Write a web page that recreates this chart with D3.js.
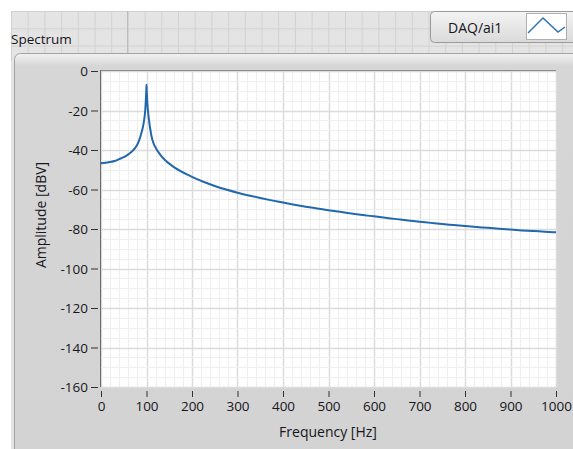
<!DOCTYPE html>
<html><head><meta charset="utf-8">
<script src="https://cdn.jsdelivr.net/npm/d3@7"></script>
<style>body{margin:0;background:#fff}svg{display:block}text{font-family:"Open Sans","Noto Sans",sans-serif;fill:#161620}</style>
</head><body><svg id="c" width="573" height="449"></svg>
<script>
const title = "Spectrum";
const legendLabel = "DAQ/ai1";
const xLabel = "Frequency [Hz]";
const yLabel = "Amplitude [dBV]";
const xTicks = [0,100,200,300,400,500,600,700,800,900,1000];
const yTicks = [0,-20,-40,-60,-80,-100,-120,-140,-160];
const freq = [0,10,20,30,40,50,60,70,78,84,88,92,95,97,98.5,99.5,100,100.5,101.5,103,105,108,111,115,122,130,140,150,162,175,190,200,225,250,275,300,325,350,375,400,425,450,475,500,525,550,575,600,625,650,675,700,725,750,775,800,825,850,875,900,925,950,975,1000];
const amp  = [-46.7,-46.5,-46.1,-45.6,-44.6,-43.6,-42.2,-40.3,-38,-35,-32,-28.5,-24.5,-20.5,-15,-10,-7,-10,-15,-19.5,-24,-29,-33,-36.3,-39.6,-42.3,-44.9,-46.9,-48.9,-50.7,-52.5,-53.6,-56.1,-58.2,-60,-61.6,-63,-64.3,-65.5,-66.6,-67.7,-68.7,-69.6,-70.5,-71.3,-72.1,-72.9,-73.6,-74.3,-75,-75.7,-76.3,-76.9,-77.5,-78,-78.5,-79,-79.4,-79.9,-80.3,-80.7,-81,-81.4,-81.7];

const svg = d3.select("#c");
svg.append("rect").attr("x",0).attr("y",0).attr("width",573).attr("height",449).attr("fill","#fff");
svg.append("rect").attr("x",11).attr("y",11).attr("width",562).attr("height",438).attr("fill","#e4e4e4");
const bg = svg.append("g").attr("stroke","#d2d2d2").attr("stroke-width",1);
for (let gx = 11.5; gx < 573; gx += 16.7) bg.append("line").attr("x1",gx).attr("x2",gx).attr("y1",11).attr("y2",60);
for (let gy = 11.5; gy < 60; gy += 17.3) bg.append("line").attr("x1",11).attr("x2",573).attr("y1",gy).attr("y2",gy);
svg.append("line").attr("x1",127.5).attr("x2",127.5).attr("y1",11).attr("y2",55).attr("stroke","#bcbcbc");

svg.append("text").attr("x",11).attr("y",44).attr("font-size",13.5).text(title);

const defs = svg.append("defs");
const pg = defs.append("linearGradient").attr("id","pg").attr("x1",0).attr("y1",0).attr("x2",0).attr("y2",1);
pg.append("stop").attr("offset","0").attr("stop-color","#f2f2f2");
pg.append("stop").attr("offset","0.03").attr("stop-color","#d6d6d6");
pg.append("stop").attr("offset","1").attr("stop-color","#d3d3d3");
svg.append("rect").attr("x",14.5).attr("y",53.5).attr("width",570).attr("height",410).attr("rx",6)
  .attr("fill","url(#pg)").attr("stroke","#a3a3a3");

const lg = defs.append("linearGradient").attr("id","lg").attr("x1",0).attr("y1",0).attr("x2",0).attr("y2",1);
lg.append("stop").attr("offset","0").attr("stop-color","#f4f4f4");
lg.append("stop").attr("offset","1").attr("stop-color","#dadada");
svg.append("rect").attr("x",430.5).attr("y",11.5).attr("width",160).attr("height",31).attr("rx",4)
  .attr("fill","url(#lg)").attr("stroke","#9a9a9a");
svg.append("text").attr("x",448).attr("y",33).attr("font-size",14).text(legendLabel);
svg.append("rect").attr("x",526.5).attr("y",13.5).attr("width",40).attr("height",26).attr("fill","#fff").attr("stroke","#b0b0b0");
svg.append("path").attr("d","M528,33 L543,18 L558,32 L565,27").attr("fill","none").attr("stroke","#2a72b5").attr("stroke-width",1.4);

const L = 101, R = 556, T = 71, B = 387;
const x = d3.scaleLinear().domain([0,1000]).range([L,R]);
const y = d3.scaleLinear().domain([-160,0]).range([B,T]);
svg.append("rect").attr("x",L).attr("y",T).attr("width",R-L).attr("height",B-T).attr("fill","#fff");
const grid = svg.append("g");
grid.selectAll(".mx").data(d3.range(0,1001,20)).join("line")
  .attr("x1",d=>Math.round(x(d))+0.5).attr("x2",d=>Math.round(x(d))+0.5).attr("y1",T).attr("y2",B)
  .attr("stroke",d=>d%100===0?"#dcdcdc":"#efefef").attr("stroke-width",d=>d%100===0?1.5:1);
grid.selectAll(".my").data(d3.range(-160,1,5)).join("line")
  .attr("y1",d=>Math.round(y(d))+0.5).attr("y2",d=>Math.round(y(d))+0.5).attr("x1",L).attr("x2",R)
  .attr("stroke",d=>d%20===0?"#dcdcdc":"#efefef").attr("stroke-width",d=>d%20===0?1.5:1);
svg.append("line").attr("x1",L).attr("x2",R).attr("y1",T-0.5).attr("y2",T-0.5).attr("stroke","#8a8a8a");
svg.append("line").attr("x1",L-0.5).attr("x2",L-0.5).attr("y1",T-1).attr("y2",B).attr("stroke","#6a6a6a");

const fmt = d => String(d);
const yAxis = d3.axisLeft(y).tickValues(yTicks).tickSize(7).tickPadding(3).tickFormat(fmt);
const gy = svg.append("g").attr("transform",`translate(${L-3},0)`).call(yAxis);
const xAxis = d3.axisBottom(x).tickValues(xTicks).tickSize(6).tickPadding(4).tickFormat(fmt);
const gx = svg.append("g").attr("transform",`translate(0,${B+4})`).call(xAxis);
[gx,gy].forEach(g=>{
  g.select(".domain").remove();
  g.selectAll(".tick line").attr("stroke","#333");
  g.selectAll(".tick text").attr("font-size",13.5).attr("font-family","'Open Sans','Noto Sans',sans-serif").attr("fill","#161620");
});
gy.selectAll(".tick text").attr("dy","0.36em");

svg.append("text").attr("x",328).attr("y",437).attr("text-anchor","middle").attr("font-size",14).text(xLabel);
svg.append("text").attr("transform","translate(46,215) rotate(-90)").attr("text-anchor","middle").attr("font-size",14).text(yLabel);

const data = freq.map((f,i)=>({f, a: amp[i]}));
svg.append("path").datum(data)
  .attr("d", d3.line().x(d=>x(d.f)).y(d=>y(d.a)).curve(d3.curveMonotoneX))
  .attr("fill","none").attr("stroke","#2268ad").attr("stroke-width",2).attr("stroke-linejoin","round");
</script></body></html>
